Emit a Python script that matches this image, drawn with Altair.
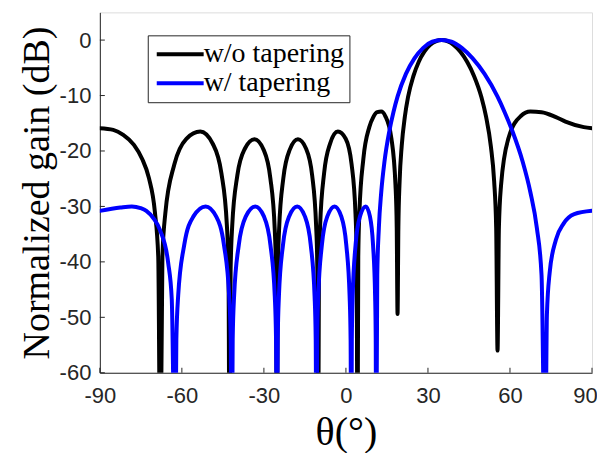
import altair as alt
import pandas as pd

# ---- data ----
theta_black = [-90, -85.1, -81.45, -77.53, -74.56, -72.04, -69.87, -68.64, -67.88, -67.12,
               -66.06, -62.74, -58.36, -53.26, -48.71, -45.55, -43.54, -42.95, -42.56, -42.17,
               -41.6, -39.71, -36.97, -33.46, -30.09, -27.64, -26.03, -25.56, -25.24, -24.92,
               -24.45, -22.89, -20.57, -17.54, -14.56, -12.35, -10.89, -10.45, -10.16, -9.87,
               -9.43, -7.98, -5.82, -2.95, -0.08, 2.07, 3.50, 3.93, 4.22, 4.51,
               4.94, 6.38, 8.55, 10.0, 11.46, 12.92, 14.39, 16.62, 18.13, 18.58,
               18.88, 19.18, 19.64, 20.40, 21.56, 22.71, 24.67, 26.65, 28.68, 30.74,
               35, 39.50, 41.87, 44.32, 46.88, 49.56, 51.25, 52.99, 54.20, 54.95,
               55.45, 55.95, 56.73, 59.44, 63.97, 67.44, 71.54, 76.8, 80.3, 87.0, 90]
gain_black = [-15.9, -16.2, -17.1, -18.9, -21.4, -24.9, -31.0, -39.1, -80, -39.1,
              -31.3, -22.4, -17.8, -16.5, -18.7, -24.0, -33.4, -41.4, -80, -41.4,
              -33.6, -24.4, -19.6, -17.9, -19.8, -24.9, -34.2, -42.1, -80, -42.1,
              -34.2, -24.9, -19.8, -17.9, -19.6, -24.4, -33.6, -41.4, -80, -41.4,
              -33.4, -24.0, -18.7, -16.5, -17.8, -22.4, -31.3, -39.1, -80, -39.1,
              -31.0, -21.4, -15.7, -13.9, -13.0, -12.9, -13.7, -17.7, -26.2, -33.8,
              -49.4, -33.8, -25.4, -19.1, -13.8, -10.3, -6.5, -3.9, -2.1, -0.9,
              0, -0.9, -2.1, -3.9, -6.5, -10.3, -13.8, -19.1, -25.4, -33.8,
              -56, -33.8, -26.2, -17.7, -13.7, -12.9, -13.0, -13.9, -14.7, -15.7, -15.9]

theta_blue = [-90, -82.5, -78.3, -75.1, -73.0, -70.3, -67.88, -65.0, -63.7, -62.47,
              -62.02, -61.35, -59.12, -55.77, -51.3, -47.48, -44.62, -42.71, -42.13, -41.75,
              -41.41, -40.89, -39.17, -36.60, -33.16, -29.99, -27.62, -26.03, -25.56, -25.24,
              -24.94, -24.50, -23.01, -20.78, -17.81, -15.0, -12.88, -11.47, -11.05, -10.77,
              -10.51, -10.11, -8.78, -6.80, -4.15, -1.71, 0.12, 1.34, 1.71, 1.95,
              2.16, 2.48, 3.54, 5.14, 7.26, 8.78, 9.91, 10.67, 10.90, 11.05,
              11.46, 12.04, 12.92, 14.1, 15.88, 17.37, 18.88, 21.94, 25.06, 28.27,
              31.57, 35, 38.58, 42.35, 46.35, 50.69, 55.45, 58.05, 60.87, 64.62,
              67.44, 69.83, 71.54, 72.87, 73.5, 74.5, 76.8, 79.6, 83.5, 90]
gain_blue = [-30.8, -30.2, -30.0, -30.3, -30.8, -32.2, -34.4, -40.2, -46.7, -80,
             -54, -46.1, -36.9, -31.8, -30, -31.8, -36.9, -46.1, -54, -80,
             -54, -46.1, -36.9, -31.8, -30, -31.8, -36.9, -46.1, -54, -80,
             -54, -46.1, -36.9, -31.8, -30, -31.8, -36.9, -46.1, -54, -80,
             -54, -46.1, -36.9, -31.8, -30, -31.8, -36.9, -46.1, -54, -80,
             -54, -46.1, -36.9, -31.8, -30, -31.8, -36.9, -46.1, -54, -80,
             -42.4, -33.9, -27.4, -21.9, -16.4, -13.0, -10.2, -6.1, -3.3, -1.4,
             -0.3, 0, -0.3, -1.4, -3.3, -6.1, -10.2, -13.0, -16.4, -21.9,
             -27.4, -33.9, -42.4, -80, -49.6, -42.0, -36.0, -33.1, -31.4, -30.8]

x_ticks = [-90, -60, -30, 0, 30, 60, 90]
y_ticks = [0, -10, -20, -30, -40, -50, -60]
series = ["w/o tapering", "w/ tapering"]
colors = ["#000000", "#0000ff"]

W, H = 493, 361
AX = "#262626"
plain_label = "'' + datum.value"

df_black = pd.DataFrame({"theta": theta_black, "gain": gain_black, "series": series[0]})
df_blue = pd.DataFrame({"theta": theta_blue, "gain": gain_blue, "series": series[1]})

x_scale = alt.Scale(domain=[-90, 90], nice=False, zero=False)
y_scale = alt.Scale(domain=[-60, 5], nice=False, zero=False)
color_scale = alt.Scale(domain=series, range=colors)

x_axis = alt.Axis(values=x_ticks, tickSize=0, grid=False, labelFlush=False,
                  labelExpr=plain_label,
                  labelOffset={"condition": {"test": "datum.value == 90", "value": -7},
                               "value": 0},
                  labelFont="Liberation Sans", labelFontSize=22, labelColor=AX,
                  labelPadding=13, domainColor=AX, domainWidth=1,
                  title="θ(°)", titleFont="Liberation Serif", titleFontSize=40,
                  titleFontWeight="normal", titleColor="#000000", titlePadding=6)
y_axis = alt.Axis(values=y_ticks, tickSize=0, grid=False, labelFlush=False,
                  labelExpr=plain_label,
                  labelFont="Liberation Sans", labelFontSize=22, labelColor=AX,
                  labelPadding=9, domainColor=AX, domainWidth=1,
                  title="Normalized gain (dB)", titleFont="Liberation Serif",
                  titleFontSize=38, titleFontWeight="normal", titleColor="#000000",
                  titlePadding=3)

legend = alt.Legend(title=None, orient="none", legendX=48, legendY=23,
                    symbolType="M -1 0 H 3.7", symbolSize=400, symbolStrokeWidth=4,
                    labelFont="Liberation Serif", labelFontSize=28, labelColor="#000000",
                    labelOffset=23, padding=5, rowPadding=1,
                    strokeColor=AX, fillColor="white")

color = alt.Color("series:N", scale=color_scale, legend=legend)
line_style = dict(strokeWidth=4, clip=True, interpolate="monotone",
                  strokeJoin="round", strokeCap="round")

black = alt.Chart(df_black).mark_line(**line_style).encode(
    x=alt.X("theta:Q", scale=x_scale, axis=x_axis),
    y=alt.Y("gain:Q", scale=y_scale, axis=y_axis),
    color=color)
blue = alt.Chart(df_blue).mark_line(**line_style).encode(
    x=alt.X("theta:Q", scale=x_scale, axis=x_axis),
    y=alt.Y("gain:Q", scale=y_scale, axis=y_axis),
    color=color)

xt = alt.Chart(pd.DataFrame({"theta": x_ticks})).mark_rule(color=AX, strokeWidth=1).encode(
    x=alt.X("theta:Q", scale=x_scale, axis=x_axis),
    y=alt.value(H), y2=alt.value(H - 5))
yt = alt.Chart(pd.DataFrame({"gain": y_ticks})).mark_rule(color=AX, strokeWidth=1).encode(
    y=alt.Y("gain:Q", scale=y_scale, axis=y_axis),
    x=alt.value(0), x2=alt.value(5))

chart = alt.layer(black, blue, xt, yt).properties(
    width=W, height=H,
    padding={"left": 92, "top": 4, "right": 5, "bottom": 80},
    autosize=alt.AutoSizeParams(type="none"),
).configure_view(strokeWidth=0).configure(background="white")

chart.save("out.html", embed_options={"renderer": "svg", "actions": False})
